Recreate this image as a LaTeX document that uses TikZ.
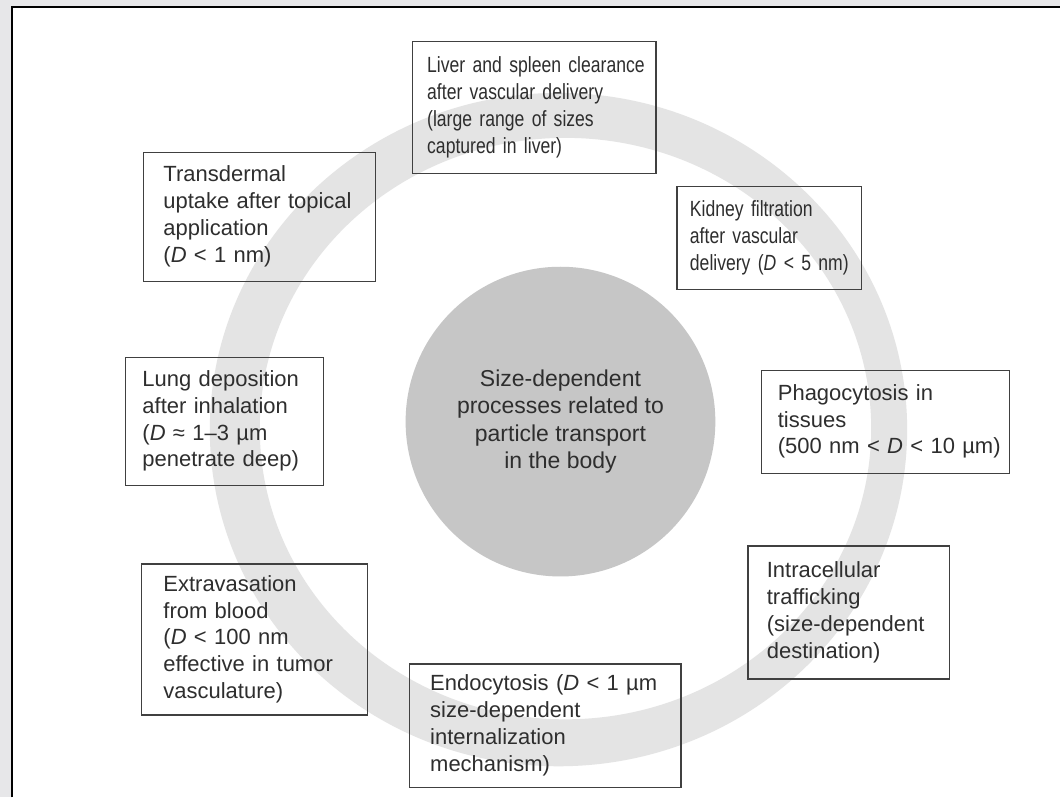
\documentclass[tikz,border=0pt]{standalone}
\usepackage{fontspec}
\setmainfont{Liberation Sans}
\newfontfamily\narrowsans{Liberation Sans}[FakeStretch=0.8]
\newcommand\boxlines[1]{\begin{tabular}{@{}l@{}}#1\end{tabular}}

\definecolor{pagegray}{HTML}{E7E7E9}
\definecolor{ringgray}{HTML}{E4E4E4}
\definecolor{hubgray}{HTML}{C6C6C6}
\definecolor{boxline}{HTML}{404040}
\definecolor{inkgray}{HTML}{2E2E2E}

\tikzset{
  procbox/.style={draw=boxline, line width=1.2pt, anchor=north west, align=left,
    inner ysep=0pt, text=inkgray, font=\fontsize{22}{26.9}\selectfont},
  narrowbox/.style={procbox, font=\narrowsans\fontsize{22}{26.9}\selectfont},
  hub/.style={circle, fill=hubgray, minimum size=310pt, align=center,
    text=inkgray, font=\fontsize{23}{27.2}\selectfont},
}

\begin{document}
\begin{tikzpicture}[x=1pt, y=-1pt]
      % page with its frame
      \fill[pagegray] (0,0) rectangle (1061,798);
      \fill[white] (12,7) rectangle (1061,798);
      \draw[line width=2pt] (12,798) -- (12,7) -- (1061,7);
      \useasboundingbox (0,0) rectangle (1061,798);
      % light ring behind the boxes
      \fill[ringgray, even odd rule] (559,430) ellipse [x radius=349, y radius=337]
        (566,429) ellipse [x radius=306, y radius=291];
      % central disc
      \node[hub] (hub) at (561,422) {Size-dependent\\processes related to\\particle transport\\in the body};
      % processes round the ring
      \node[narrowbox, text width=214pt, inner xsep=15pt, minimum height=132pt] (liver) at (412,41)
        {\boxlines{Liver and spleen clearance\\after vascular delivery\\(large range of sizes\\captured in liver)}};
      \node[narrowbox, text width=159pt, inner xsep=13pt, minimum height=103pt] (kidney) at (677,186)
        {\boxlines{Kidney filtration\\after vascular\\delivery (\textit{D} < 5 nm)}};
      \node[procbox, text width=216pt, inner xsep=16pt, minimum height=103pt] (phago) at (762,370)
        {\boxlines{Phagocytosis in\\tissues\\(500 nm < \textit{D} < 10 µm)}};
      \node[procbox, text width=164pt, inner xsep=19pt, minimum height=133pt] (intra) at (748,546)
        {\boxlines{Intracellular\\trafficking\\(size-dependent\\destination)}};
      \node[procbox, text width=230pt, inner xsep=21pt, minimum height=124pt] (endo) at (409,664)
        {\boxlines{Endocytosis (\textit{D} < 1 µm\\size-dependent\\internalization\\mechanism)}};
      \node[procbox, text width=182pt, inner xsep=22pt, minimum height=151pt] (extra) at (141,564)
        {\boxlines{Extravasation\\from blood\\(\textit{D} < 100 nm\\effective in tumor\\vasculature)}};
      \node[procbox, text width=164pt, inner xsep=17pt, minimum height=128pt] (lung) at (125,357)
        {\boxlines{Lung deposition\\after inhalation\\(\textit{D} ≈ 1–3 µm\\penetrate deep)}};
      \node[procbox, text width=192pt, inner xsep=20pt, minimum height=129pt] (skin) at (143,152)
        {\boxlines{Transdermal\\uptake after topical\\application\\(\textit{D} < 1 nm)}};
\end{tikzpicture}
\end{document}
